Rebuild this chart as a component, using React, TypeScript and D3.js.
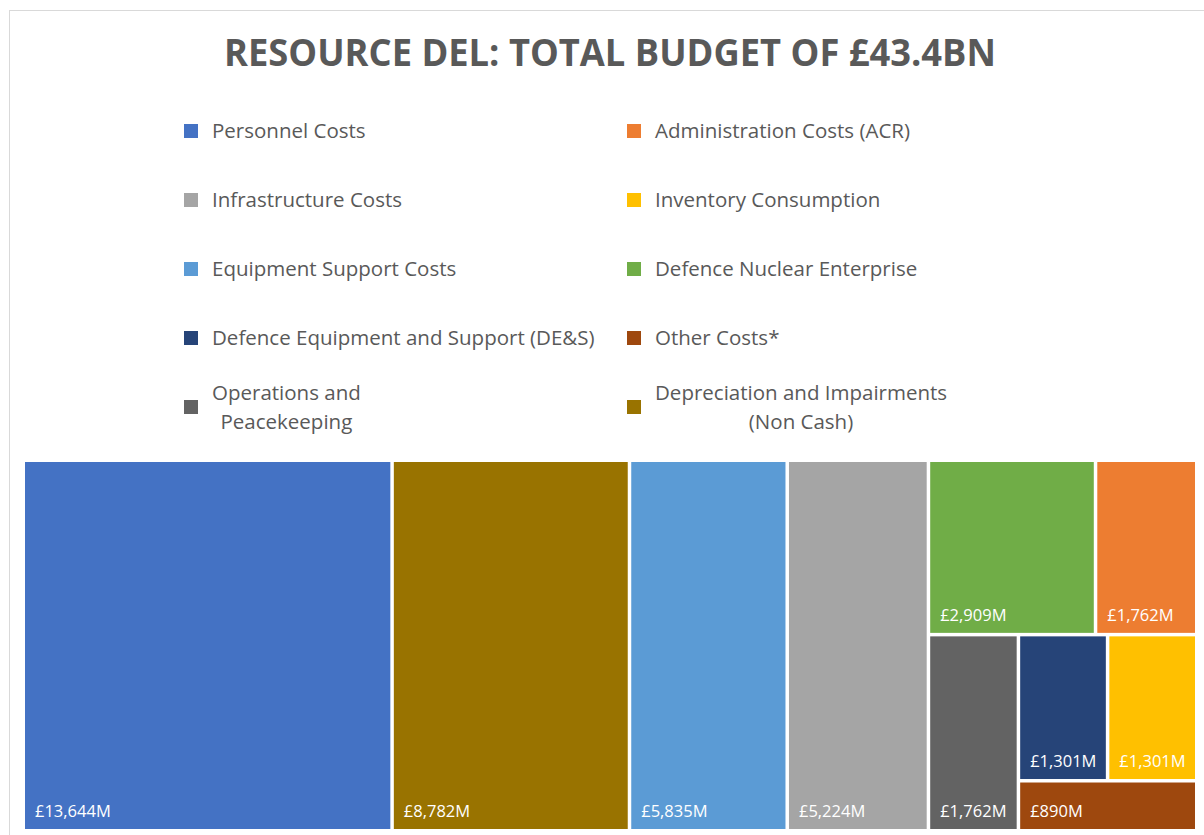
import { useEffect, useRef } from 'react';
import * as d3 from 'd3';

const title = 'RESOURCE DEL: TOTAL BUDGET OF £43.4BN';

const categories = [
  'Personnel Costs',
  'Administration Costs (ACR)',
  'Infrastructure Costs',
  'Inventory Consumption',
  'Equipment Support Costs',
  'Defence Nuclear Enterprise',
  'Defence Equipment and Support (DE&S)',
  'Other Costs*',
  'Operations and Peacekeeping',
  'Depreciation and Impairments (Non Cash)',
];

// how the legend wraps each name
const legendLines = [
  ['Personnel Costs'],
  ['Administration Costs (ACR)'],
  ['Infrastructure Costs'],
  ['Inventory Consumption'],
  ['Equipment Support Costs'],
  ['Defence Nuclear Enterprise'],
  ['Defence Equipment and Support (DE&S)'],
  ['Other Costs*'],
  ['Operations and', 'Peacekeeping'],
  ['Depreciation and Impairments', '(Non Cash)'],
];

// £ millions
const values = [13644, 1762, 5224, 1301, 5835, 2909, 1301, 890, 1762, 8782];

const colors = [
  '#4472C4', '#ED7D31', '#A5A5A5', '#FFC000', '#5B9BD5',
  '#70AD47', '#264478', '#9E480E', '#636363', '#997300',
];

// nesting that reproduces the Excel tile arrangement (slice/dice alternating by depth)
type Node = { i?: number; children?: Node[] };
const layout: Node = {
  children: [
    { i: 0 },
    { i: 9 },
    { i: 4 },
    { i: 2 },
    {
      children: [
        { children: [{ i: 5 }, { i: 1 }] },
        {
          children: [
            { i: 8 },
            { children: [{ children: [{ i: 6 }, { i: 3 }] }, { i: 7 }] },
          ],
        },
      ],
    },
  ],
};

const W = 1204;
const H = 835;
const textColor = '#595959';
const font = '"Open Sans", sans-serif';

export default function App() {
  const svgRef = useRef<SVGSVGElement>(null);

  useEffect(() => {
    if (!svgRef.current) return;
    const svg = d3.select(svgRef.current);
    svg.selectAll('*').remove();

    svg.append('rect')
      .attr('x', 0).attr('y', 0).attr('width', W).attr('height', H)
      .attr('fill', '#fff');

    // chart frame
    svg.append('rect')
      .attr('x', 9.5).attr('y', 10.5).attr('width', W + 20).attr('height', H + 20)
      .attr('fill', 'none')
      .attr('stroke', '#d9d9d9');

    svg.append('text')
      .attr('x', 610)
      .attr('y', 66)
      .attr('text-anchor', 'middle')
      .attr('font-family', font)
      .attr('font-weight', 700)
      .attr('font-size', 38)
      .attr('fill', textColor)
      .attr('textLength', 772)
      .attr('lengthAdjust', 'spacingAndGlyphs')
      .text(title);

    // legend, 2 columns row-major
    const colX = [184, 627];
    const rowY = d3.scalePoint<number>().domain([0, 1, 2, 3, 4]).range([131, 407]);
    const legend = svg.append('g').attr('font-family', font).attr('font-size', 20.5).attr('fill', textColor);

    categories.forEach((name, i) => {
      const col = i % 2;
      const row = Math.floor(i / 2);
      const cy = rowY(row) as number;
      const g = legend.append('g').attr('transform', `translate(${colX[col]},${cy})`);
      g.append('rect')
        .attr('x', 0).attr('y', -7).attr('width', 14).attr('height', 14)
        .attr('fill', colors[i]);
      const lines = legendLines[i];
      const lh = 29;
      const texts = lines.map((ln, k) =>
        g.append('text')
          .attr('x', 28)
          .attr('y', 7 + (k - (lines.length - 1) / 2) * lh)
          .text(ln)
      );
      if (lines.length > 1) {
        // centre-align wrapped lines within the widest one
        const widths = texts.map((t) => (t.node() as SVGTextElement).getComputedTextLength());
        const maxW = d3.max(widths) as number;
        texts.forEach((t) => t.attr('x', 28 + maxW / 2).attr('text-anchor', 'middle'));
      }
      g.append('title').text(name);
    });

    // treemap
    const left = 25;
    const top = 462;
    const root = d3.hierarchy<Node>(layout, (d) => d.children)
      .sum((d) => (d.i !== undefined ? values[d.i] : 0));

    d3.treemap<Node>()
      .tile(d3.treemapSliceDice)
      .size([1170, 367])
      .paddingInner(3.5)(root);

    const fmt = d3.format(',');
    const tiles = svg.append('g')
      .attr('transform', `translate(${left},${top})`)
      .selectAll('g')
      .data(root.leaves() as d3.HierarchyRectangularNode<Node>[])
      .enter()
      .append('g');

    tiles.append('rect')
      .attr('x', (d) => d.x0)
      .attr('y', (d) => d.y0)
      .attr('width', (d) => d.x1 - d.x0)
      .attr('height', (d) => d.y1 - d.y0)
      .attr('fill', (d) => colors[d.data.i as number]);

    tiles.append('text')
      .attr('x', (d) => d.x0 + 10)
      .attr('y', (d) => d.y1 - 12)
      .attr('font-family', font)
      .attr('font-size', 16.5)
      .attr('fill', '#fff')
      .text((d) => `£${fmt(values[d.data.i as number])}M`);
  }, []);

  return (
    <svg
      ref={svgRef}
      width={W}
      height={H}
      style={{ position: 'absolute', left: 0, top: 0, display: 'block' }}
    />
  );
}
